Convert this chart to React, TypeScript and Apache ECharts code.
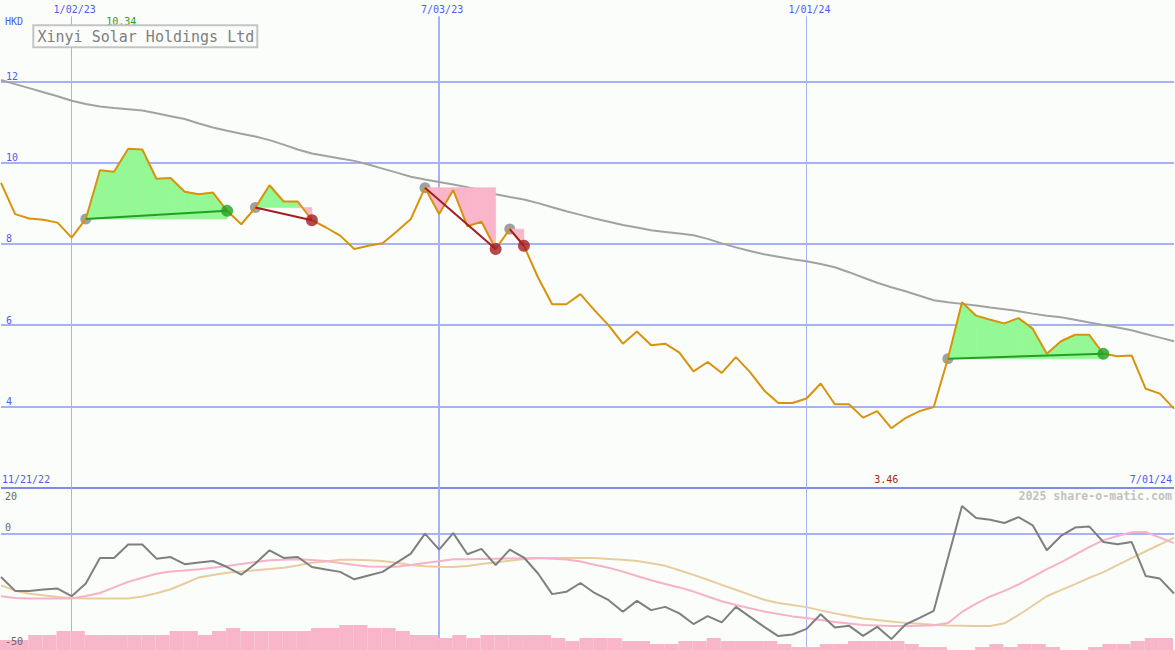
import React, { useEffect, useRef } from "react";
import * as echarts from "echarts";

// ---------- data ----------
const companyName = "Xinyi Solar Holdings Ltd";
const currency = "HKD";
const rangeStartLabel = "11/21/22";
const yearMarks = ["1/02/23", "7/03/23", "1/01/24"];
const oscTicks = [20, 0, -50];
const credit = "2025 share-o-matic.com";

// weekly closing price (HKD)
const price = [
  9.5, 8.73, 8.62, 8.59, 8.52, 8.15, 8.61, 9.81, 9.77, 10.34,
  10.32, 9.6, 9.62, 9.28, 9.22, 9.26, 8.81, 8.48, 8.89, 9.44,
  9.04, 9.04, 8.58, 8.4, 8.2, 7.87, 7.95, 8.01, 8.3, 8.61,
  9.38, 8.73, 9.32, 8.43, 8.54, 7.87, 8.36, 7.95, 7.17, 6.51,
  6.51, 6.76, 6.36, 5.99, 5.54, 5.84, 5.5, 5.54, 5.32, 4.86,
  5.09, 4.82, 5.21, 4.84, 4.39, 4.08, 4.08, 4.19, 4.56, 4.05,
  4.05, 3.72, 3.88, 3.46, 3.71, 3.88, 3.98, 5.17, 6.56, 6.23,
  6.13, 6.04, 6.17, 5.91, 5.29, 5.6, 5.76, 5.76, 5.29, 5.23,
  5.25, 4.43, 4.31, 3.94,
];

// long moving average (grey)
const trendMA = [
  12.03, 11.93, 11.83, 11.73, 11.63, 11.52, 11.44, 11.38, 11.34, 11.31,
  11.28, 11.21, 11.14, 11.07, 10.96, 10.86, 10.78, 10.71, 10.64, 10.55,
  10.44, 10.32, 10.22, 10.16, 10.1, 10.04, 9.95, 9.85, 9.75, 9.65,
  9.58, 9.52, 9.46, 9.39, 9.31, 9.22, 9.15, 9.09, 9.0, 8.9,
  8.8, 8.71, 8.62, 8.54, 8.46, 8.4, 8.33, 8.29, 8.25, 8.21,
  8.12, 8.01, 7.91, 7.82, 7.74, 7.68, 7.62, 7.57, 7.5, 7.42,
  7.3, 7.17, 7.04, 6.93, 6.83, 6.72, 6.61, 6.56, 6.52, 6.48,
  6.43, 6.39, 6.34, 6.28, 6.23, 6.19, 6.13, 6.06, 6.0, 5.94,
  5.87, 5.78, 5.69, 5.6,
];

// oscillator (grey)
const oscFast = [
  -18.6, -24.6, -24.6, -24.0, -23.6, -26.9, -21.4, -10.4, -10.4, -4.6,
  -4.6, -10.7, -10.0, -13.1, -12.4, -11.7, -14.3, -17.6, -12.8, -7.1,
  -10.4, -10.0, -14.3, -15.4, -16.4, -19.6, -18.0, -16.4, -12.4, -8.5,
  0.1, -6.8, 0.3, -8.8, -6.5, -13.5, -6.8, -10.2, -17.1, -26.0,
  -25.0, -21.2, -25.5, -28.6, -33.6, -28.9, -32.9, -31.5, -34.3, -38.9,
  -35.5, -38.2, -31.5, -35.8, -40.1, -44.1, -43.4, -41.0, -34.7, -40.4,
  -39.6, -44.0, -40.1, -45.4, -39.1, -36.2, -33.2, -10.5, 12.0, 6.8,
  6.1, 4.7, 7.2, 3.7, -7.1, -0.9, 2.7, 3.2, -3.5, -4.5,
  -3.5, -18.2, -19.3, -25.7,
];

// oscillator signal (pink)
const oscSignal = [
  -26.9, -27.7, -27.9, -27.9, -27.9, -27.9, -26.8, -25.5, -23.1, -20.7,
  -18.9, -17.2, -16.2, -15.8, -15.3, -14.6, -13.9, -13.0, -12.1, -11.4,
  -11.2, -11.0, -11.3, -11.7, -12.6, -13.4, -14.1, -14.2, -14.2, -13.4,
  -12.6, -11.8, -11.0, -10.9, -10.8, -10.7, -10.6, -10.5, -10.4, -10.7,
  -11.1, -11.9, -13.3, -14.6, -16.3, -18.2, -20.0, -21.6, -23.1, -24.9,
  -27.0, -29.1, -30.7, -32.1, -33.5, -34.6, -35.6, -36.3, -37.2, -38.0,
  -38.7, -39.3, -39.5, -39.7, -39.7, -39.6, -39.4, -38.5, -33.7, -30.1,
  -27.0, -24.6, -21.8, -18.6, -15.2, -12.3, -9.0, -5.7, -2.7, -0.9,
  0.7, 0.8, -1.6, -4.0,
];

// oscillator slow average (tan)
const oscSlow = [
  -22.2, -24.5, -25.8, -26.5, -27.2, -27.7, -27.9, -27.9, -27.9, -27.9,
  -27.0, -25.6, -23.9, -21.4, -18.8, -17.7, -16.8, -16.2, -15.7, -15.2,
  -14.6, -13.6, -12.5, -11.9, -11.2, -11.2, -11.4, -11.7, -12.5, -13.4,
  -14.0, -14.2, -14.3, -13.9, -13.0, -12.2, -11.6, -10.9, -10.4, -10.4,
  -10.4, -10.4, -10.4, -10.8, -11.2, -11.7, -12.7, -13.8, -15.7, -17.7,
  -19.8, -22.0, -24.1, -26.3, -28.4, -29.8, -30.7, -31.6, -33.0, -34.3,
  -35.4, -36.5, -37.2, -37.8, -38.4, -38.8, -39.2, -39.5, -39.6, -39.7,
  -39.7, -38.6, -35.0, -31.0, -26.9, -24.3, -21.7, -19.0, -16.5, -13.5,
  -10.5, -7.5, -4.6, -1.6,
];

// weekly volume level (relative)
const volumeLevel = [
  10, 10, 15, 15, 19, 19, 15, 15, 15, 15,
  15, 15, 19, 19, 15, 19, 22, 19, 19, 19,
  19, 19, 22, 22, 25, 25, 22, 22, 19, 15,
  15, 12, 15, 12, 15, 15, 15, 15, 15, 12,
  9, 12, 12, 12, 9, 9, 6, 6, 9, 9,
  12, 9, 9, 9, 9, 6, 3, 3, 6, 6,
  9, 9, 9, 9, 6, 3, 3, 0, 0, 3,
  6, 3, 6, 6, 3, 0, 0, 3, 6, 6,
  9, 12, 12,
];

// trade signals: entry week index -> exit week index
const signalStarts = [6, 18, 30, 36, 67];
const signalEnds = [16, 22, 35, 37, 78];

// weekly dates (Mondays) starting 11/28/22
const firstWeek = Date.UTC(2022, 10, 28);
const weeks: string[] = price.map((_, i) => {
  const d = new Date(firstWeek + i * 7 * 86400000);
  return `${d.getUTCMonth() + 1}/${String(d.getUTCDate()).padStart(2, "0")}/${String(d.getUTCFullYear() % 100).padStart(2, "0")}`;
});

// ---------- styles ----------
const FONT = '"DejaVu Sans Mono", "Liberation Mono", monospace';
const BLUE = "#4b5cf2";
const GRIDLINE = "#a6b2f1";
const SEPARATOR = "#7d8be8";
const ORANGE = "#d8930c";
const MA_GREY = "#a2a2a2";
const GREEN = "#22a022";
const GREEN_FILL = "#94f894";
const RED = "#a41d22";
const PINK_FILL = "#f9b5c9";
const OSC_GREY = "#7f7f7f";
const OSC_PINK = "#f8b2c8";
const OSC_TAN = "#e7cd9e";
const BG = "#fbfdfb";
const NONE = "rgba(0,0,0,0)";

function buildOption() {
  const signals = signalStarts.map((s, k) => ({ start: s, end: signalEnds[k] }));
  const isGain = (s: { start: number; end: number }) => price[s.end] >= price[s.start];

  const fillSegments: number[][] = [];
  signals.forEach((s) => {
    const base = price[s.start];
    for (let i = s.start; i < s.end; i++) {
      fillSegments.push([i, base, price[i], price[i + 1], price[i + 1] >= base ? 1 : 0]);
    }
  });

  const vLinesTop = yearMarks.map((m) => {
    const i = weeks.indexOf(m);
    return [
      { coord: [i, 13.6], lineStyle: { width: m.startsWith("7/") ? 2 : 1, color: GRIDLINE, type: "solid" } },
      { coord: [i, 2] },
    ];
  });
  const vLinesBottom = yearMarks.map((m) => {
    const i = weeks.indexOf(m);
    return [
      { coord: [i, 20], lineStyle: { width: m.startsWith("7/") ? 2 : 1, color: GRIDLINE, type: "solid" } },
      { coord: [i, -50.1] },
    ];
  });

  const lineBase = {
    type: "line",
    showSymbol: false,
    symbol: "none",
    silent: true,
    connectNulls: false,
  };

  return {
    animation: false,
    backgroundColor: BG,
    grid: [
      { left: 1, right: 1, top: -1.5, height: 489 },
      { left: 1, right: 1, top: 487.5, height: 162.5 },
      { left: 0, right: 2, top: 487.5, height: 162.5 },
    ],
    xAxis: [
      { type: "category", gridIndex: 0, data: weeks, boundaryGap: false, show: false },
      { type: "category", gridIndex: 1, data: weeks, boundaryGap: false, show: false },
      { type: "category", gridIndex: 2, data: weeks.slice(0, volumeLevel.length), boundaryGap: true, show: false },
    ],
    yAxis: [
      {
        type: "value",
        gridIndex: 0,
        min: 2,
        max: 14,
        interval: 2,
        axisLine: { show: false },
        axisTick: { show: false },
        splitLine: {
          show: true,
          lineStyle: { color: [SEPARATOR, GRIDLINE, GRIDLINE, GRIDLINE, GRIDLINE, GRIDLINE, NONE], width: 2 },
        },
        axisLabel: {
          inside: true,
          margin: 5,
          color: BLUE,
          fontFamily: FONT,
          fontSize: 10,
          verticalAlign: "bottom",
          lineHeight: 10,
          formatter: (v: number) => (v >= 4 && v <= 12 ? String(v) : ""),
        },
      },
      { type: "value", gridIndex: 1, min: -50.1, max: 20, show: false, splitLine: { show: false } },
      { type: "value", gridIndex: 2, min: 0, max: 162.5, show: false, splitLine: { show: false } },
    ],
    series: [
      // vertical date lines, top panel
      {
        ...lineBase,
        xAxisIndex: 0,
        yAxisIndex: 0,
        z: 1,
        data: weeks.map(() => null),
        markLine: { silent: true, symbol: "none", z: 1, label: { show: false }, data: vLinesTop },
      },
      // long moving average
      {
        ...lineBase,
        xAxisIndex: 0,
        yAxisIndex: 0,
        z: 2,
        data: trendMA,
        lineStyle: { color: MA_GREY, width: 2 },
      },
      // entry markers
      {
        type: "scatter",
        xAxisIndex: 0,
        yAxisIndex: 0,
        z: 3,
        silent: true,
        symbolSize: 11,
        itemStyle: { color: "#8a8a8a" },
        data: signals.map((s) => [s.start, price[s.start]]),
      },
      // gain / loss fills
      {
        type: "custom",
        xAxisIndex: 0,
        yAxisIndex: 0,
        z: 4,
        silent: true,
        encode: { x: 0, y: 1 },
        data: fillSegments,
        renderItem: (_params: any, api: any) => {
          const i = api.value(0);
          const base = api.value(1);
          const p0 = api.value(2);
          const p1 = api.value(3);
          const g = api.value(4);
          const pts = [api.coord([i, base]), api.coord([i, p0]), api.coord([i + 1, p1]), api.coord([i + 1, base])];
          const c = g ? GREEN_FILL : PINK_FILL;
          return { type: "polygon", shape: { points: pts }, style: { fill: c, stroke: c, lineWidth: 0.6 } };
        },
      },
      // price
      {
        ...lineBase,
        xAxisIndex: 0,
        yAxisIndex: 0,
        z: 5,
        data: price,
        lineStyle: { color: ORANGE, width: 2 },
      },
      // entry -> exit connectors
      ...signals.map((s) => ({
        ...lineBase,
        xAxisIndex: 0,
        yAxisIndex: 0,
        z: 6,
        connectNulls: true,
        data: weeks.map((_, i) => (i === s.start || i === s.end ? price[i] : null)),
        lineStyle: { color: isGain(s) ? GREEN : RED, width: 2 },
      })),
      // exit markers
      {
        type: "scatter",
        xAxisIndex: 0,
        yAxisIndex: 0,
        z: 7,
        silent: true,
        symbolSize: 12,
        data: signals.map((s) => ({ value: [s.end, price[s.end]], itemStyle: { color: isGain(s) ? GREEN : RED } })),
      },
      // bottom panel: vertical lines + zero line
      {
        ...lineBase,
        xAxisIndex: 1,
        yAxisIndex: 1,
        z: 1,
        data: weeks.map(() => null),
        markLine: {
          silent: true,
          symbol: "none",
          z: 1,
          label: { show: false },
          data: [
            ...vLinesBottom,
            { yAxis: 0, lineStyle: { color: GRIDLINE, width: 2, type: "solid" } },
          ],
        },
      },
      // volume
      {
        type: "bar",
        xAxisIndex: 2,
        yAxisIndex: 2,
        z: 2,
        silent: true,
        barWidth: "100%",
        barCategoryGap: "0%",
        itemStyle: { color: PINK_FILL },
        data: volumeLevel,
      },
      {
        ...lineBase,
        xAxisIndex: 1,
        yAxisIndex: 1,
        z: 3,
        data: oscSlow,
        lineStyle: { color: OSC_TAN, width: 2 },
      },
      {
        ...lineBase,
        xAxisIndex: 1,
        yAxisIndex: 1,
        z: 4,
        data: oscSignal,
        lineStyle: { color: OSC_PINK, width: 2 },
      },
      {
        ...lineBase,
        xAxisIndex: 1,
        yAxisIndex: 1,
        z: 5,
        data: oscFast,
        lineStyle: { color: OSC_GREY, width: 2 },
      },
    ],
  };
}

export default function App() {
  const ref = useRef<HTMLDivElement>(null);

  useEffect(() => {
    if (!ref.current) return;
    const chart = echarts.init(ref.current, null, { renderer: "svg" });
    chart.setOption(buildOption() as any);

    const gx = (i: number) => (chart.convertToPixel({ gridIndex: 0 } as any, [i, 2]) as number[])[0];
    const oy = (v: number) => (chart.convertToPixel({ gridIndex: 1 } as any, [0, v]) as number[])[1];
    const maxV = Math.max(...price);
    const minV = Math.min(...price);
    const maxIdx = price.indexOf(maxV);
    const minIdx = price.indexOf(minV);

    const txt = (t: string, x: number, y: number, fill: string, extra: any = {}) => ({
      type: "text",
      x,
      y,
      z: 100,
      silent: true,
      style: {
        text: t,
        fill,
        fontFamily: FONT,
        fontSize: 10,
        align: "left",
        verticalAlign: "middle",
        ...extra,
      },
    });

    const graphic: any[] = [
      txt(currency, 5, 21, BLUE),
      ...yearMarks.map((m) => txt(m, gx(weeks.indexOf(m)) + 3, 9, BLUE, { align: "center" })),
      txt(maxV.toFixed(2), gx(maxIdx) - 7, 21, GREEN, { align: "center" }),
      txt(rangeStartLabel, 2, 479, BLUE),
      txt(minV.toFixed(2), gx(minIdx) - 5, 479, RED, { align: "center" }),
      txt(weeks[weeks.length - 1], 1172, 479, BLUE, { align: "right" }),
      txt(credit, 1172, 496, "#c2c2c2", { align: "right", fontSize: 11.6, fontWeight: "bold" }),
      txt(String(oscTicks[0]), 5, oy(oscTicks[0]) + 8.5, "#666666"),
      txt(String(oscTicks[1]), 5, oy(oscTicks[1]) - 6, "#666666"),
      txt(String(oscTicks[2]), 5, oy(oscTicks[2]) - 8, "#666666"),
      {
        type: "rect",
        z: 100,
        silent: true,
        shape: { x: 33.3, y: 25.3, width: 224, height: 22 },
        style: { fill: BG, stroke: "#c4c4c4", lineWidth: 2 },
      },
      txt(companyName, 37.5, 36.5, "#808080", { fontSize: 15 }),
    ];
    graphic[graphic.length - 1].z = 101;

    chart.setOption({ graphic } as any);
    return () => chart.dispose();
  }, []);

  return <div ref={ref} style={{ position: "fixed", left: 0, top: 0, width: 1175, height: 650 }} />;
}
